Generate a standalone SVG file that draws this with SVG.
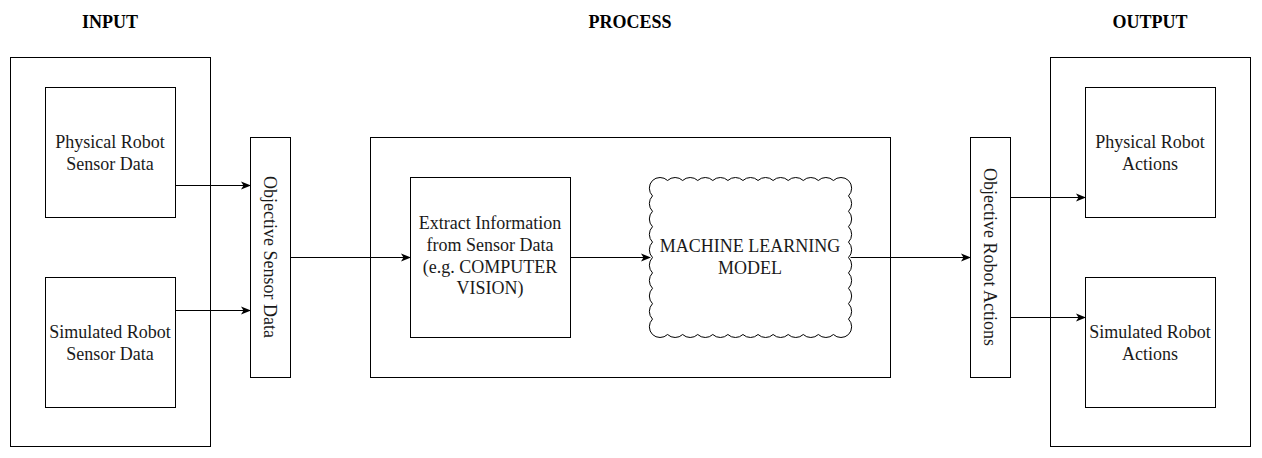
<svg xmlns="http://www.w3.org/2000/svg" width="1262" height="458" viewBox="0 0 1262 458">
<defs>
<style>
.box{fill:#fff;stroke:#000;stroke-width:1}
.t{font-family:"Liberation Serif","Times New Roman",serif;font-size:18px;fill:#1a1a1a;text-anchor:middle}
.h{font-family:"Liberation Serif","Times New Roman",serif;font-size:18px;font-weight:bold;fill:#000;text-anchor:middle}
.c{fill:none;stroke:#000;stroke-width:1}
</style>
<marker id="arr" viewBox="0 0 10 10" refX="9" refY="5" markerWidth="10" markerHeight="10" markerUnits="userSpaceOnUse" orient="auto">
<path d="M0,1 L10,5 L0,9 L2.5,5 Z" fill="#000"/>
</marker>
</defs>
<rect width="1262" height="458" fill="#fff"/>
<g id="headers">
<text class="h" x="110" y="28">INPUT</text>
<text class="h" x="630" y="28">PROCESS</text>
<text class="h" x="1150" y="28">OUTPUT</text>
</g>
<g id="input"><rect class="box" x="10.5" y="57.5" width="200" height="389"/></g>
<g id="process"><rect class="box" x="370.5" y="137.5" width="520" height="240"/></g>
<g id="output"><rect class="box" x="1050.5" y="57.5" width="200" height="389"/></g>
<g id="physical-sensor"><rect class="box" x="45.5" y="87.5" width="130" height="130"/>
<text class="t" x="110" y="148">Physical Robot</text><text class="t" x="110" y="169.5">Sensor Data</text></g>
<g id="simulated-sensor"><rect class="box" x="45.5" y="277.5" width="130" height="130"/>
<text class="t" x="110" y="338">Simulated Robot</text><text class="t" x="110" y="359.5">Sensor Data</text></g>
<g id="objective-sensor"><rect class="box" x="250.5" y="137.5" width="40" height="240"/>
<text class="t" transform="translate(270,257) rotate(90)" y="6">Objective Sensor Data</text></g>
<g id="extract"><rect class="box" x="410.5" y="177.5" width="160" height="160"/>
<text class="t" x="490" y="229">Extract Information</text>
<text class="t" x="490" y="251">from Sensor Data</text>
<text class="t" x="490" y="272.5">(e.g. COMPUTER</text>
<text class="t" x="490" y="294">VISION)</text></g>
<g id="ml-model">
<path class="box" d="M652.5,180.5 a11 11 0 0 1 15.077 0 a11 11 0 0 1 15.077 0 a11 11 0 0 1 15.077 0 a11 11 0 0 1 15.077 0 a11 11 0 0 1 15.077 0 a11 11 0 0 1 15.077 0 a11 11 0 0 1 15.077 0 a11 11 0 0 1 15.077 0 a11 11 0 0 1 15.077 0 a11 11 0 0 1 15.077 0 a11 11 0 0 1 15.077 0 a11 11 0 0 1 15.077 0 a11 11 0 0 1 15.077 0 a11 11 0 0 1 0 15.4 a11 11 0 0 1 0 15.4 a11 11 0 0 1 0 15.4 a11 11 0 0 1 0 15.4 a11 11 0 0 1 0 15.4 a11 11 0 0 1 0 15.4 a11 11 0 0 1 0 15.4 a11 11 0 0 1 0 15.4 a11 11 0 0 1 0 15.4 a11 11 0 0 1 0 15.4 a11 11 0 0 1 -15.077 0 a11 11 0 0 1 -15.077 0 a11 11 0 0 1 -15.077 0 a11 11 0 0 1 -15.077 0 a11 11 0 0 1 -15.077 0 a11 11 0 0 1 -15.077 0 a11 11 0 0 1 -15.077 0 a11 11 0 0 1 -15.077 0 a11 11 0 0 1 -15.077 0 a11 11 0 0 1 -15.077 0 a11 11 0 0 1 -15.077 0 a11 11 0 0 1 -15.077 0 a11 11 0 0 1 -15.077 0 a11 11 0 0 1 0 -15.4 a11 11 0 0 1 0 -15.4 a11 11 0 0 1 0 -15.4 a11 11 0 0 1 0 -15.4 a11 11 0 0 1 0 -15.4 a11 11 0 0 1 0 -15.4 a11 11 0 0 1 0 -15.4 a11 11 0 0 1 0 -15.4 a11 11 0 0 1 0 -15.4 a11 11 0 0 1 0 -15.4 Z"/>
<text class="t" x="750" y="251.5">MACHINE LEARNING</text>
<text class="t" x="750" y="273.5">MODEL</text></g>
<g id="objective-actions"><rect class="box" x="970.5" y="137.5" width="40" height="240"/>
<text class="t" transform="translate(990,257) rotate(90)" y="6">Objective Robot Actions</text></g>
<g id="physical-actions"><rect class="box" x="1085.5" y="87.5" width="130" height="130"/>
<text class="t" x="1150" y="148">Physical Robot</text><text class="t" x="1150" y="169.5">Actions</text></g>
<g id="simulated-actions"><rect class="box" x="1085.5" y="277.5" width="130" height="130"/>
<text class="t" x="1150" y="338">Simulated Robot</text><text class="t" x="1150" y="359.5">Actions</text></g>
<g id="connectors">
<path class="c" d="M175.5,185.5 H250" marker-end="url(#arr)"/>
<path class="c" d="M175.5,310.5 H250" marker-end="url(#arr)"/>
<path class="c" d="M290.5,257.5 H410" marker-end="url(#arr)"/>
<path class="c" d="M570.5,257.5 H650" marker-end="url(#arr)"/>
<path class="c" d="M850.5,257.5 H970" marker-end="url(#arr)"/>
<path class="c" d="M1010.5,197.5 H1085" marker-end="url(#arr)"/>
<path class="c" d="M1010.5,317.5 H1085" marker-end="url(#arr)"/>
</g>
</svg>
